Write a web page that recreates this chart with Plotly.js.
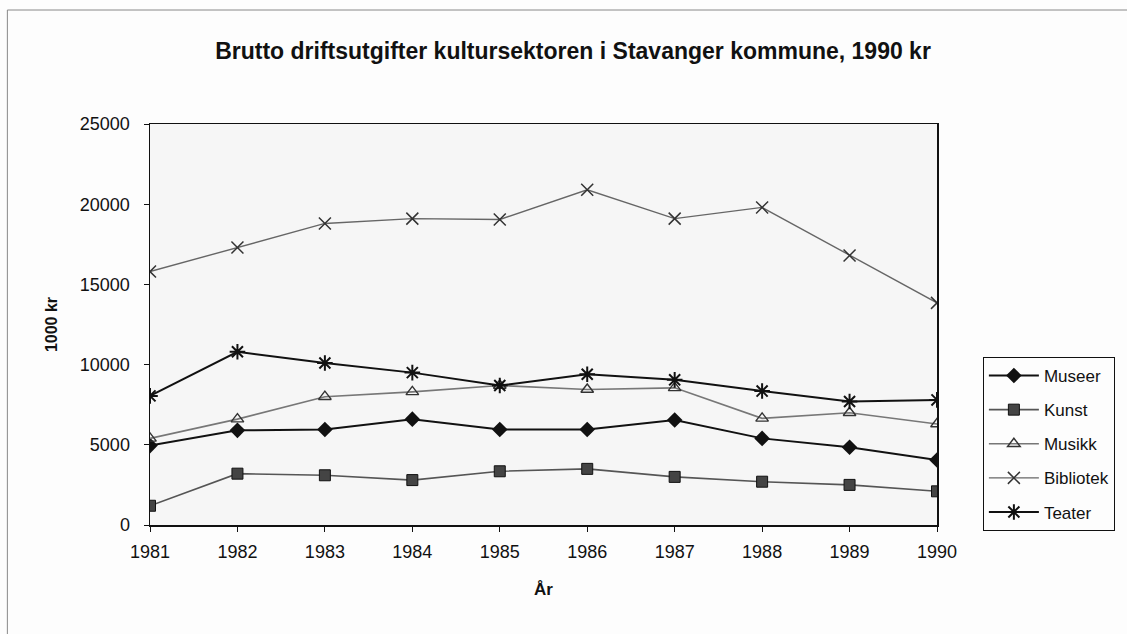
<!DOCTYPE html>
<html>
<head>
<meta charset="utf-8">
<script src="https://cdn.plot.ly/plotly-3.0.1.min.js"></script>
<style>html,body{margin:0;padding:0;background:#fff;}#chart{width:1127px;height:634px;}</style>
</head>
<body>
<div id="chart"></div>
<script>
const years = [1981, 1982, 1983, 1984, 1985, 1986, 1987, 1988, 1989, 1990];
const museer    = [4950, 5900, 5950, 6600, 5950, 5950, 6550, 5400, 4850, 4050];
const kunst     = [1200, 3200, 3100, 2800, 3350, 3500, 3000, 2700, 2500, 2100];
const musikk    = [5400, 6600, 8000, 8300, 8700, 8450, 8550, 6650, 7000, 6300];
const bibliotek = [15800, 17300, 18800, 19100, 19050, 20900, 19100, 19800, 16800, 13850];
const teater    = [8050, 10800, 10100, 9500, 8700, 9400, 9050, 8350, 7700, 7800];
const tickVals = [0, 5000, 10000, 15000, 20000, 25000];

const font = "Liberation Sans, Arial, sans-serif";
const traces = [
  {name: 'Museer', y: museer, line: {color: '#111', width: 2},
   marker: {symbol: 'diamond', size: 12, color: '#111'}},
  {name: 'Kunst', y: kunst, line: {color: '#555', width: 1.6},
   marker: {symbol: 'square', size: 11, color: '#444', line: {color: '#111', width: 1}}},
  {name: 'Musikk', y: musikk, line: {color: '#777', width: 1.6},
   marker: {symbol: 'triangle-up-open', size: 11, color: '#333', line: {width: 1.4}}},
  {name: 'Bibliotek', y: bibliotek, line: {color: '#666', width: 1.4},
   marker: {symbol: 'x-thin-open', size: 12, color: '#333', line: {width: 1.5, color: '#333'}}},
  {name: 'Teater', y: teater, line: {color: '#111', width: 2},
   marker: {symbol: 'asterisk-open', size: 13, color: '#111', line: {width: 2, color: '#111'}}}
].map((t, i) => Object.assign({x: years, type: 'scatter', mode: 'lines+markers', legendgroup: 'g' + i}, t));

const layout = {
  width: 1127, height: 634,
  margin: {l: 150, r: 188, t: 124, b: 109},
  paper_bgcolor: '#fdfdfd',
  plot_bgcolor: '#f6f6f6',
  font: {family: font, size: 18, color: '#111'},
  title: {text: '<b>Brutto driftsutgifter kultursektoren i Stavanger kommune, 1990 kr</b>',
          font: {family: font, size: 23, color: '#111'},
          x: (208 + 938) / 2 / 1127, xanchor: 'center', y: 1 - 51/634, yanchor: 'middle'},
  xaxis: {
    title: {text: '<b>År</b>', font: {family: font, size: 17}, standoff: 22},
    tickmode: 'array', tickvals: years, ticktext: years.map(String),
    range: [1981, 1990], showgrid: false, zeroline: false,
    showline: true, linecolor: '#111', linewidth: 1.5, mirror: true,
    ticks: 'outside', ticklen: 5, tickcolor: '#111', ticklabelstandoff: 5,
    tickfont: {family: font, size: 18}
  },
  yaxis: {
    title: {text: '<b>1000 kr</b>', font: {family: font, size: 16}, standoff: 18},
    tickmode: 'array', tickvals: tickVals, ticktext: tickVals.map(String),
    range: [0, 25000], showgrid: false, zeroline: false,
    showline: true, linecolor: '#111', linewidth: 1.5, mirror: true,
    ticks: 'outside', ticklen: 5, tickcolor: '#111', ticklabelstandoff: 10,
    tickfont: {family: font, size: 18}
  },
  showlegend: true,
  legend: {
    x: (985 - 150) / 789, xanchor: 'left', y: (525 - 357) / 401, yanchor: 'top',
    bgcolor: '#fdfdfd', bordercolor: '#111', borderwidth: 1,
    font: {family: font, size: 17}, traceorder: 'grouped', tracegroupgap: 9,
    itemwidth: 50
  },
  shapes: [{type: 'rect', xref: 'paper', yref: 'paper',
            x0: (7 - 150) / 789, x1: (1140 - 150) / 789,
            y0: (525 - 645) / 401, y1: (525 - 10) / 401,
            line: {color: '#888', width: 1}, fillcolor: 'rgba(0,0,0,0)', layer: 'below'}]
};

Plotly.newPlot('chart', traces, layout, {displayModeBar: false, staticPlot: true});
</script>
</body>
</html>
